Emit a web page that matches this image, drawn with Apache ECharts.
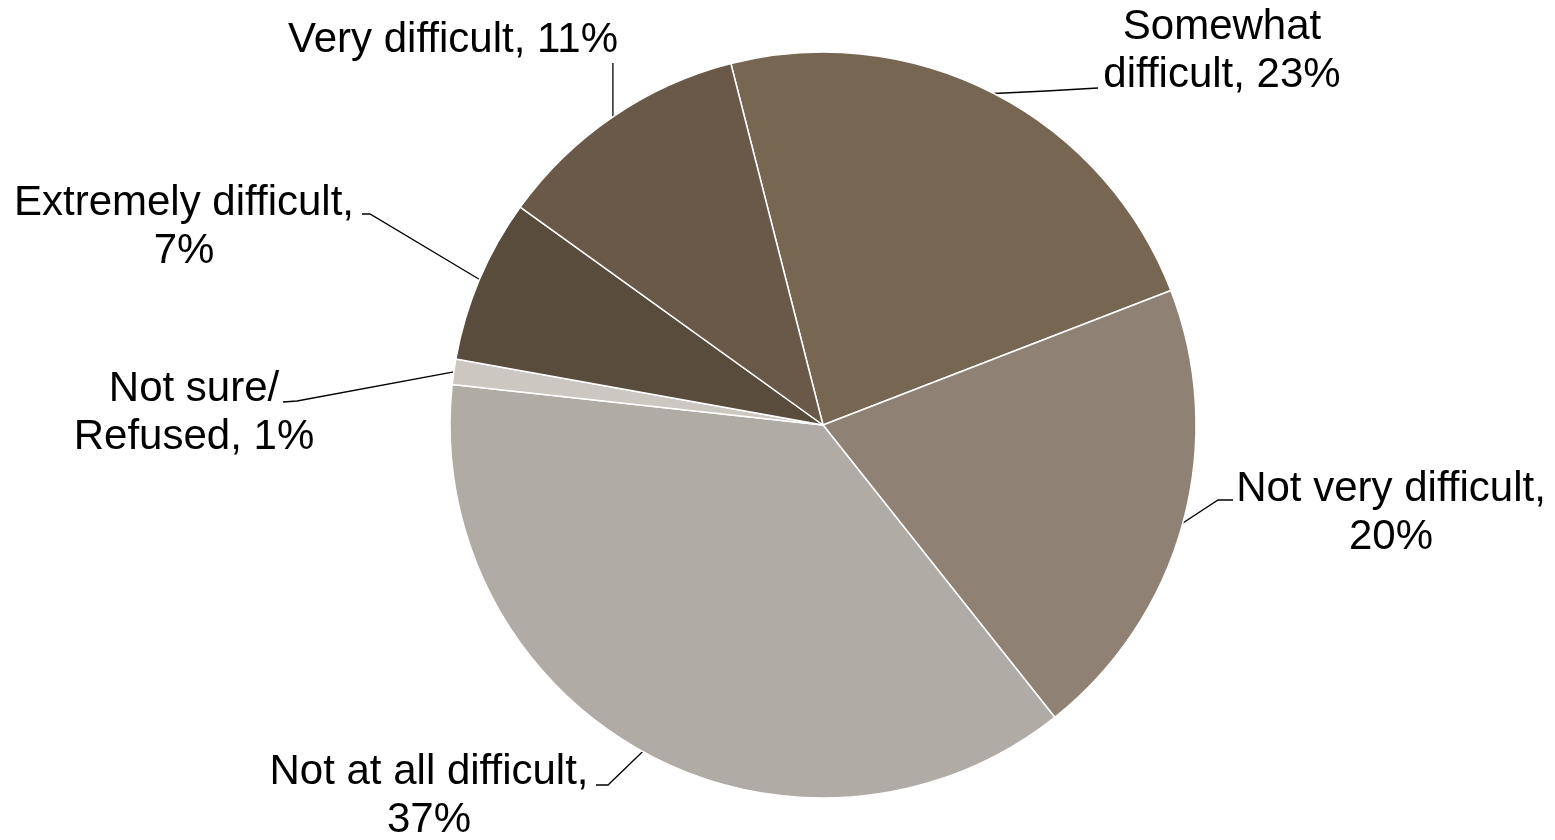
<!DOCTYPE html>
<html>
<head>
<meta charset="utf-8">
<script src="https://cdn.jsdelivr.net/npm/echarts@6/dist/echarts.min.js"></script>
<style>
  html, body { margin: 0; padding: 0; background: #ffffff; }
  #chart { width: 1555px; height: 840px; }
</style>
</head>
<body>
<div id="chart"></div>
<script>
// ---- data (clockwise order from the top-left slice boundary) ----
const categories = ['Somewhat\ndifficult', 'Not very difficult', 'Not at all difficult', 'Not sure/\nRefused', 'Extremely difficult', 'Very difficult'];
const values = [23.1, 20.2, 37.4, 1.1, 7.1, 11.1];
const separators = [', ', ',\n', ',\n', ', ', ',\n', ', '];

// ---- styling / layout ----
const colors = ['#776651', '#8f8274', '#b1aba5', '#cdc7c1', '#5a4c3c', '#6a5948'];
const labelCenters = [[1222, 51], [1391, 513], [429, 796], [194, 413], [184, 227], [453, 40]];
// middle and end points of leader lines (start point is the slice edge from ECharts)
const leaderTails = [
  [[1046, 91], [1098, 88]],
  [[1218, 500], [1233, 500]],
  [[608, 785], [596, 785]],
  [[297, 401], [283, 402]],
  [[370, 214], [362, 214]],
  [null, [null, 63]]
];

const chart = echarts.init(document.getElementById('chart'), null, { renderer: 'canvas' });

const data = categories.map((c, i) => ({
  name: c,
  value: values[i],
  itemStyle: { color: colors[i] }
}));

chart.setOption({
  animation: false,
  backgroundColor: '#ffffff',
  series: [{
    type: 'pie',
    center: [823, 425],
    radius: [0, 373],
    startAngle: 104.3,
    clockwise: true,
    avoidLabelOverlap: false,
    data: data,
    itemStyle: { borderColor: '#ffffff', borderWidth: 1.5 },
    label: {
      show: true,
      position: 'outside',
      color: '#000000',
      fontFamily: 'Liberation Sans, Arial, sans-serif',
      fontSize: 42,
      lineHeight: 48,
      align: 'center',
      formatter: p => p.name + separators[p.dataIndex] + Math.round(p.value) + '%'
    },
    labelLine: {
      show: true,
      length: 10,
      length2: 10,
      lineStyle: { color: '#000000', width: 1.3 }
    },
    emphasis: { disabled: true },
    labelLayout: function (params) {
      const i = params.dataIndex;
      const c = labelCenters[i];
      const p0 = params.labelLinePoints ? params.labelLinePoints[0] : null;
      const out = { x: c[0], y: c[1], align: 'center', verticalAlign: 'middle' };
      if (p0) {
        const t = leaderTails[i];
        const end = [t[1][0] == null ? p0[0] : t[1][0], t[1][1]];
        const mid = t[0] ? t[0] : [(p0[0] + end[0]) / 2, (p0[1] + end[1]) / 2];
        out.labelLinePoints = [[p0[0], p0[1]], mid, end];
      }
      return out;
    }
  }]
});
</script>
</body>
</html>
